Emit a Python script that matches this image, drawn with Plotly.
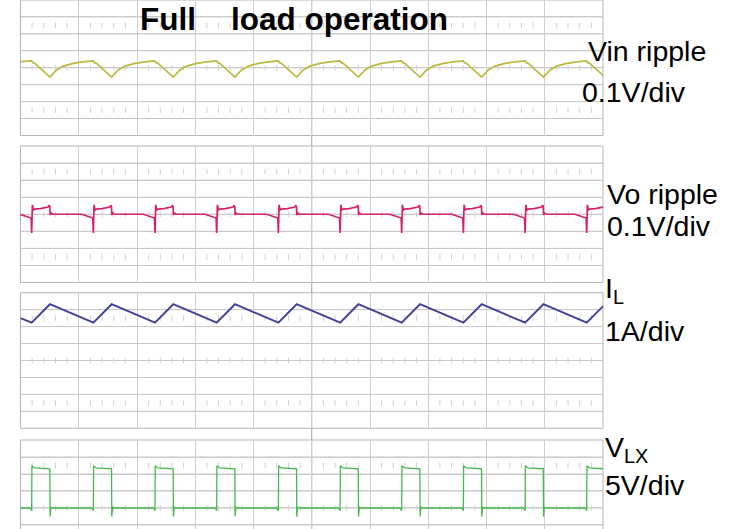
import numpy as np
import plotly.graph_objects as go

# ---- data (time in screen divisions, 0 = centre) ----
rise_edges = [-4.808, -3.749, -2.691, -1.632, -0.573, 0.487, 1.544, 2.603, 3.663, 4.720]

# Vin ripple (V), one switching period shape relative to each rising edge
vin_start_t = [-5.0]
vin_start_v = [0.036]
vin_offsets = [0.0, 0.02, 0.05, 0.314, 0.427, 0.542, 0.714, 0.881]
vin_values = [0.040, 0.030, 0.027, -0.055, -0.013, 0.010, 0.026, 0.035]

# Vo ripple (V)
vo_offsets = [-0.20, -0.01, 0.0, 0.006, 0.012, 0.03, 0.05, 0.15, 0.28, 0.30, 0.31, 0.318, 0.33, 0.36]
vo_values = [0.0, -0.022, -0.110, -0.030, 0.055, 0.025, 0.030, 0.033, 0.042, 0.053, 0.045, -0.005, 0.008, 0.0]

# Inductor current (A)
il_start_t = [-5.0]
il_start_v = [2.50]
il_offsets = [0.0, 0.314]
il_values = [2.23, 3.32]

# Switch node voltage (V)
vlx_start_t = [-5.0]
vlx_start_v = [0.0]
vlx_offsets = [-0.03, -0.005, 0.0, 0.004, 0.02, 0.05, 0.30, 0.312, 0.316, 0.322, 0.33, 0.36]
vlx_values = [0.0, -0.6, -0.6, 12.5, 12.1, 11.8, 11.65, 11.5, -2.5, -0.75, 0.25, 0.0]

title_text = "<b>Full\u00a0\u00a0\u00a0\u00a0load operation</b>"
labels = ["Vin ripple", "0.1V/div", "Vo ripple", "0.1V/div", "I<sub>L</sub>", "1A/div", "V<sub>LX</sub>", "5V/div"]


def build(start_t, start_v, offs, vals):
    t = list(start_t)
    v = list(start_v)
    for e in rise_edges:
        for o, val in zip(offs, vals):
            t.append(round(e + o, 4))
            v.append(val)
    return t, v


W, H = 729, 529
X0, X1 = 20.5, 603.0
# panel pixel extents (top, bottom)
panels = [(0.0, 135.5), (146.0, 282.5), (292.7, 428.3), (440.0, 529.0)]
ranges = [[-0.4, 0.4], [-0.4, 0.4], [-4, 4], [-6.18, 20]]
scales = [0.1, 0.1, 1.0, 5.0]


def ydom(top, bot):
    return [1 - bot / H, 1 - top / H]


grid = "#cfcfcf"
fig = go.Figure()

# horizontal graticule lines, one per division, drawn in each panel
row_divs = [[-3, -2, -1, 0, 1, 2, 3]] * 3 + [[-1, 0, 1, 2, 3]]
for i, s in enumerate(scales):
    ya = "y" if i == 0 else f"y{i+1}"
    gx, gy = [], []
    for k in row_divs[i]:
        gx += [-5, 5, None]
        gy += [k * s, k * s, None]
    fig.add_trace(go.Scatter(x=gx, y=gy, mode="lines", xaxis="x", yaxis=ya,
                             line=dict(color="#c8c8c8", width=1), hoverinfo="skip", showlegend=False))

# graticule minor tick rows
minor_x = [round(v, 2) for v in np.arange(-5, 5.0001, 0.2) if abs(v - round(v)) > 0.05]
for i, s in enumerate(scales):
    ya = "y" if i == 0 else f"y{i+1}"
    xs, ys = [], []
    for r in (0.0, 2.5, -2.5):
        xs += minor_x
        ys += [r * s] * len(minor_x)
    fig.add_trace(go.Scatter(x=xs, y=ys, mode="markers", xaxis="x", yaxis=ya,
                             marker=dict(symbol="line-ns", size=4, line=dict(color="#d0d0d0", width=1)),
                             hoverinfo="skip", showlegend=False))

t, v = build(vin_start_t, vin_start_v, vin_offsets, vin_values)
fig.add_trace(go.Scatter(x=t, y=v, mode="lines", xaxis="x", yaxis="y",
                         line=dict(color="#bdb83e", width=1.7), showlegend=False))
t, v = build([], [], vo_offsets, vo_values)
fig.add_trace(go.Scatter(x=t, y=v, mode="lines", xaxis="x", yaxis="y2",
                         line=dict(color="#d6226e", width=1.7), showlegend=False))
t, v = build(il_start_t, il_start_v, il_offsets, il_values)
fig.add_trace(go.Scatter(x=t, y=v, mode="lines", xaxis="x", yaxis="y3",
                         line=dict(color="#40409a", width=1.9), showlegend=False))
t, v = build(vlx_start_t, vlx_start_v, vlx_offsets, vlx_values)
fig.add_trace(go.Scatter(x=t, y=v, mode="lines", xaxis="x", yaxis="y4",
                         line=dict(color="#45b84c", width=1.3), showlegend=False))

# channel ground markers at the left edge
chan_cols = ["#bdb83e", "#d6226e", "#40409a", "#45b84c"]
chan_lvls = [0.04, 0.035, 0.0, 0.5]
for i in range(4):
    ya = "y" if i == 0 else f"y{i+1}"
    fig.add_trace(go.Scatter(x=[-5.07], y=[chan_lvls[i]], mode="markers", xaxis="x", yaxis=ya,
                             marker=dict(symbol="square-open", size=5, color=chan_cols[i]),
                             cliponaxis=False, hoverinfo="skip", showlegend=False))

# trigger / position markers in the gaps under panels 1-3
trig_lvls = [-0.4147, -0.426, -4.34]
for i in range(3):
    ya = "y" if i == 0 else f"y{i+1}"
    fig.add_trace(go.Scatter(x=[0.0], y=[trig_lvls[i]], mode="markers", xaxis="x", yaxis=ya,
                             marker=dict(symbol="triangle-up", size=5, color=chan_cols[i]),
                             cliponaxis=False, hoverinfo="skip", showlegend=False))

common_y = dict(showticklabels=False, ticks="", showgrid=True, gridcolor=grid, gridwidth=1,
                zeroline=False, anchor="x", fixedrange=True)
fig.update_layout(
    width=W, height=H, margin=dict(l=0, r=0, t=0, b=0),
    paper_bgcolor="white", plot_bgcolor="rgba(0,0,0,0)",
    xaxis=dict(domain=[X0 / W, X1 / W], range=[-5, 5], dtick=1, tick0=0, showgrid=True,
               gridcolor=grid, zeroline=False, showticklabels=False, ticks="", anchor="y4"),
    yaxis=dict(domain=ydom(*panels[0]), range=ranges[0], dtick=0.1, tick0=0, **common_y),
    yaxis2=dict(domain=ydom(*panels[1]), range=ranges[1], dtick=0.1, tick0=0, **common_y),
    yaxis3=dict(domain=ydom(*panels[2]), range=ranges[2], dtick=1, tick0=0, **common_y),
    yaxis4=dict(domain=ydom(*panels[3]), range=ranges[3], dtick=5, tick0=0, **common_y),
)

border = "#b5b5b5"
for i in range(3):
    d0, d1 = ydom(*panels[i])
    fig.add_shape(type="rect", xref="paper", yref="paper", x0=X0 / W, x1=X1 / W, y0=d0, y1=d1,
                  line=dict(color=border, width=1), layer="below")
d0, d1 = ydom(*panels[3])
for (x0, y0, x1, y1) in [(X0, d1, X1, d1), (X0, d0, X0, d1), (X1, d0, X1, d1)]:
    fig.add_shape(type="line", xref="paper", yref="paper", x0=x0 / W, x1=x1 / W, y0=y0, y1=y1,
                  line=dict(color=border, width=1), layer="below")
fig.add_shape(type="line", xref="x", yref="paper", x0=0, x1=0, y0=0, y1=1,
              line=dict(color="#a0a0a0", width=1), layer="below")

font_fam = "Arial, Liberation Sans, sans-serif"
fig.add_annotation(x=294.3 / W, y=1 - 19 / H, xref="paper", yref="paper", text=title_text,
                   showarrow=False, xanchor="center", yanchor="middle",
                   font=dict(family=font_fam, size=31.5, color="black"))

label_pos = [(586, 51), (580, 92), (605, 194), (605, 226), (603, 290), (603, 331), (603, 449), (603, 485)]
for txt, (xp, yp) in zip(labels, label_pos):
    fig.add_annotation(x=xp / W, y=1 - yp / H, xref="paper", yref="paper", text=txt,
                       showarrow=False, xanchor="left", yanchor="middle",
                       font=dict(family=font_fam, size=28.5, color="black"))

fig.write_html("out.html", config={"displayModeBar": False},
               post_script="document.body.style.margin='0';document.body.style.padding='0';")
